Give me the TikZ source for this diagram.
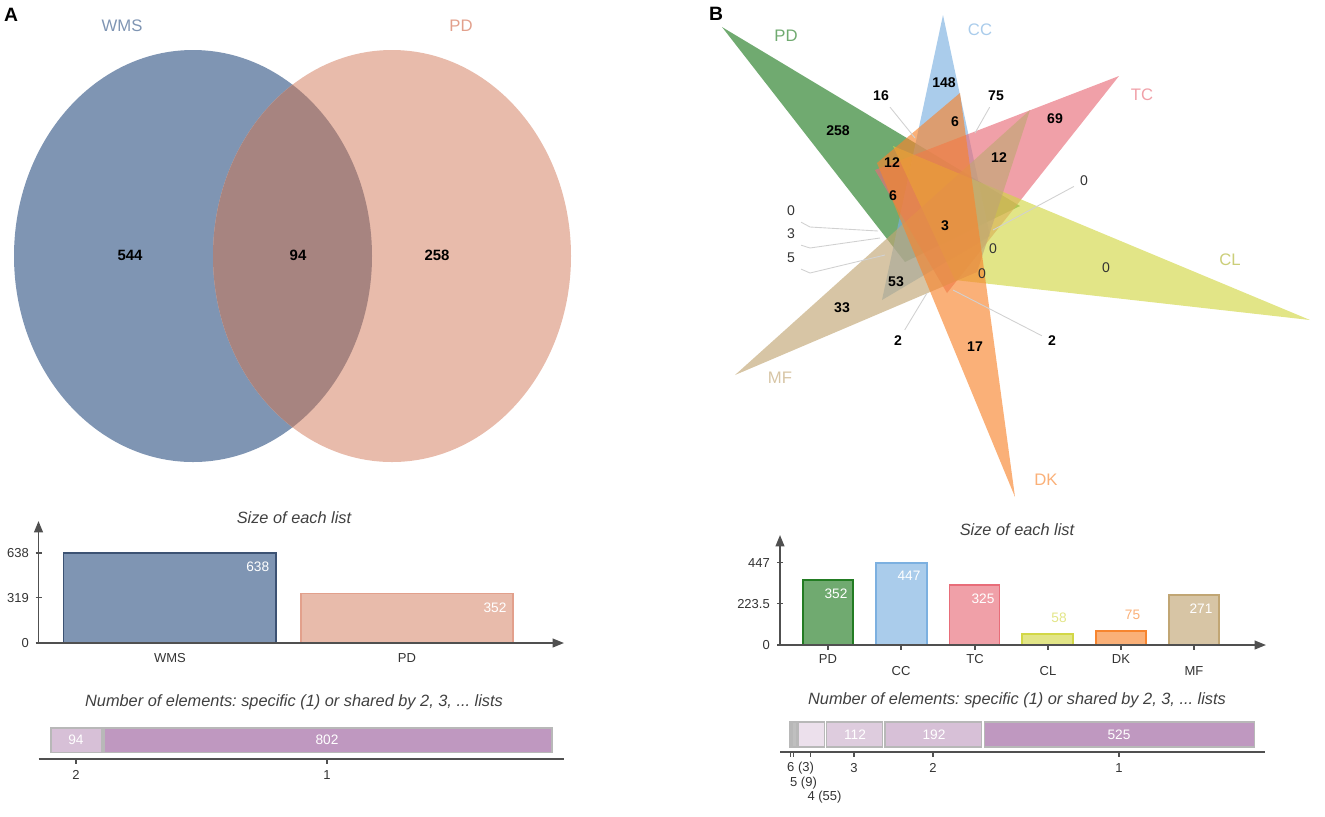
\documentclass[tikz,border=0pt]{standalone}
\usepackage{fontspec}
\setmainfont{Liberation Sans}
\usepackage{xcolor}
\definecolor{wms}{RGB}{127,149,179}
\definecolor{wmsedge}{RGB}{60,82,115}
\definecolor{pdA}{RGB}{232,187,171}
\definecolor{pdAedge}{RGB}{226,160,140}
\definecolor{wmspd}{RGB}{167,132,128}
\definecolor{pdT}{RGB}{35,124,35}
\definecolor{ccT}{RGB}{124,176,224}
\definecolor{tcT}{RGB}{232,109,121}
\definecolor{clT}{RGB}{210,215,70}
\definecolor{dkT}{RGB}{247,133,47}
\definecolor{mfT}{RGB}{193,166,116}
\definecolor{pdBar}{RGB}{112,170,112}
\definecolor{ccBar}{RGB}{170,204,235}
\definecolor{tcBar}{RGB}{240,160,168}
\definecolor{clBar}{RGB}{226,229,135}
\definecolor{dkBar}{RGB}{250,176,120}
\definecolor{mfBar}{RGB}{215,197,165}
\definecolor{shareone}{RGB}{191,152,192}
\definecolor{sharetwo}{RGB}{215,192,215}
\definecolor{sharethree}{RGB}{222,204,222}
\definecolor{sharefour}{RGB}{236,224,236}
\definecolor{axisgrey}{RGB}{80,80,80}
\usetikzlibrary{arrows.meta}
\usetikzlibrary{positioning}
\usetikzlibrary{calc}
\frenchspacing

\begin{document}
\begin{tikzpicture}[x=0.02cm, y=-0.02cm,
  venntxt/.style={font=\fontsize{8.5}{10}\selectfont\bfseries},
  numtxt/.style={font=\fontsize{8}{10}\selectfont\bfseries},
  zerotxt/.style={font=\fontsize{8}{10}\selectfont, text=black!80},
  setname/.style={font=\fontsize{9.5}{11}\selectfont},
  charttitle/.style={font=\fontsize{9.3}{11}\selectfont\itshape, text=black!75},
  ticktxt/.style={font=\fontsize{7.4}{9}\selectfont, text=black!80},
  barval/.style={font=\fontsize{7.8}{9}\selectfont, text=white},
  axisline/.style={draw=axisgrey, line width=1pt},
  tickline/.style={draw=axisgrey, line width=0.6pt},
  axisarrow/.style={-{Triangle[length=6.5pt, width=5pt]}},
  leader/.style={draw=black!18, line width=0.5pt},
  tri/.style={fill opacity=0.65},
  sharebox/.style={draw=black!28, line width=0.7pt}]

\useasboundingbox (0,0) rectangle (1325,816);

% panel letters
\node[font=\fontsize{11}{12}\selectfont\bfseries] (panA) at (11,15) {A};
\node[font=\fontsize{11}{12}\selectfont\bfseries] (panB) at (716,14) {B};

% Venn A
\fill[wms] (193,256) ellipse [x radius=179, y radius=206];
\fill[pdA] (392,256) ellipse [x radius=179, y radius=206];
\begin{scope}
  \clip (193,256) ellipse [x radius=179, y radius=206];
  \fill[wmspd] (392,256) ellipse [x radius=179, y radius=206];
\end{scope}

\node[setname, text=wms] (setWMS) at (122,26) {WMS};
\node[setname, text=pdAedge] (setPDA) at (461,26) {PD};
\node[venntxt] (onlyWMS) at (130,255) {544};
\node[venntxt] (bothA) at (298,255) {94};
\node[venntxt] (onlyPDA) at (437,255) {258};

% size of each list A
\node[charttitle] (sizeA) at (294,518) {Size of each list};
\coordinate (oA) at (38.5,643);
\coordinate (yA) at (38.5,521);
\coordinate (xA) at (564,643);
\filldraw[fill=wms, draw=wmsedge, line width=1pt] (63.5,553) rectangle (276,643);
\filldraw[fill=pdA, draw=pdAedge, line width=1pt] (301,593.6) rectangle (512.7,643);
\draw[axisline, axisarrow] (oA) -- (yA);
\draw[axisline, axisarrow] (oA) -- (xA);
\foreach \y/\t in {553/638, 597.6/319, 643/0} {
  \draw[tickline] (35.5,\y) -- (41.5,\y);
  \node[ticktxt, anchor=east] (tickA\t) at (35,\y) {\t};
}
\node[barval] (valWMS) at (257.7,567) {638};
\node[barval] (valPDA) at (495,608) {352};
\node[ticktxt] (xWMS) at (170,657.6) {WMS};
\node[ticktxt] (xPDA) at (407,657.6) {PD};

% shared elements A
\node[charttitle] (sharedA) at (294,702) {Number of elements: specific (1) or shared by 2, 3, ... lists};
\filldraw[sharebox, fill=sharetwo] (51,728) rectangle (102,752.5);
\filldraw[sharebox, fill=shareone] (104,728) rectangle (552,752.5);
\node[barval] (valTwoA) at (76,740) {94};
\node[barval] (valOneA) at (327,740) {802};
\coordinate (sA1) at (38.5,759);
\coordinate (sA2) at (563.5,759);
\draw[axisline] (sA1) -- (sA2);
\draw[tickline] (76,759) -- (76,764);
\draw[tickline] (327,759) -- (327,764);
\node[ticktxt] (lblTwoA) at (76,775) {2};
\node[ticktxt] (lblOneA) at (327,775) {1};

% Venn B, six triangles
\fill[tri, pdT] (722,27) -- (1020,206) -- (905,262) -- cycle;
\fill[tri, ccT] (943,15) -- (990,236) -- (882,300) -- cycle;
\fill[tri, tcT] (1119,76) -- (947,293) -- (875,170) -- cycle;
\fill[tri, clT] (1310,320) -- (955,280) -- (893,146) -- cycle;
\fill[tri, mfT] (735,375) -- (1030,110) -- (977,272) -- cycle;
\fill[tri, dkT] (1015,497) -- (877,163) -- (960,93) -- cycle;

\node[setname, text=pdBar] (setPD) at (786,36) {PD};
\node[setname, text=ccBar] (setCC) at (980,30) {CC};
\node[setname, text=tcBar] (setTC) at (1142,95) {TC};
\node[setname, text=clBar!90!black] (setCL) at (1230,260) {CL};
\node[setname, text=mfBar] (setMF) at (780,378) {MF};
\node[setname, text=dkBar] (setDK) at (1046,480) {DK};

\node[numtxt] (n258) at (838,131) {258};
\node[numtxt] (n16) at (881,96) {16};
\node[numtxt] (n148) at (944,83) {148};
\node[numtxt] (n75) at (996,96) {75};
\node[numtxt] (n6a) at (955,122) {6};
\node[numtxt] (n69) at (1055,119) {69};
\node[numtxt] (n12a) at (892,163) {12};
\node[numtxt] (n12b) at (999,158) {12};
\node[zerotxt] (n0a) at (1084,181) {0};
\node[numtxt] (n6b) at (893,196) {6};
\node[numtxt] (n3) at (945,226) {3};
\node[zerotxt] (n0b) at (791,211) {0};
\node[zerotxt] (n3b) at (791,234) {3};
\node[zerotxt] (n5b) at (791,258) {5};
\node[zerotxt] (n0c) at (993,249) {0};
\node[zerotxt] (n0d) at (1106,268) {0};
\node[zerotxt] (n0e) at (982,274) {0};
\node[numtxt] (n53) at (896,282) {53};
\node[numtxt] (n33) at (842,308) {33};
\node[numtxt] (n2a) at (898,341) {2};
\node[numtxt] (n17) at (975,347) {17};
\node[numtxt] (n2b) at (1052,341) {2};

% leader lines
\coordinate (c16) at (915,138);
\coordinate (c75) at (975,133);
\coordinate (c0a) at (993,230);
\coordinate (k0b) at (810,227);
\coordinate (c0b) at (878,231);
\coordinate (k3b) at (810,248);
\coordinate (c3b) at (880,238);
\coordinate (k5b) at (810,273);
\coordinate (c5b) at (885,255);
\coordinate (c2a) at (927,293);
\coordinate (c2b) at (953,290);
\draw[leader] (n16) -- (c16);
\draw[leader] (n75) -- (c75);
\draw[leader] (n0a) -- (c0a);
\draw[leader] (n0b.south east) -- (k0b) -- (c0b);
\draw[leader] (n3b.south east) -- (k3b) -- (c3b);
\draw[leader] (n5b.south east) -- (k5b) -- (c5b);
\draw[leader] (n2a) -- (c2a);
\draw[leader] (n2b) -- (c2b);

% size of each list B
\node[charttitle] (sizeB) at (1017,530) {Size of each list};
\coordinate (oB) at (780,645);
\coordinate (yB) at (780,535);
\coordinate (xB) at (1266,645);
\filldraw[fill=pdBar, draw=pdT, line width=1pt] (803,580.2) rectangle (853,645);
\filldraw[fill=ccBar, draw=ccT, line width=1pt] (876,562.7) rectangle (927,645);
\filldraw[fill=tcBar, draw=tcT, line width=1pt] (949.5,585.2) rectangle (999.5,645);
\filldraw[fill=clBar, draw=clT, line width=1pt] (1022,634.3) rectangle (1073,645);
\filldraw[fill=dkBar, draw=dkT, line width=1pt] (1096,631.2) rectangle (1146,645);
\filldraw[fill=mfBar, draw=mfT, line width=1pt] (1169,595.1) rectangle (1219,645);
\draw[axisline, axisarrow] (oB) -- (yB);
\draw[axisline, axisarrow] (oB) -- (xB);
\foreach \y/\t/\n in {562.7/447/a, 603.9/223.5/b, 645/0/c} {
  \draw[tickline] (777,\y) -- (783,\y);
  \node[ticktxt, anchor=east] (tickB\n) at (776,\y) {\t};
}
\node[barval] (valPD) at (836,594) {352};
\node[barval] (valCC) at (909,576) {447};
\node[barval] (valTC) at (983,599) {325};
\node[barval, text=clBar] (valCL) at (1059,618) {58};
\node[barval, text=dkBar] (valDK) at (1132.5,615) {75};
\node[barval] (valMF) at (1201,609) {271};
\foreach \x/\t/\yy in {828/PD/659, 901/CC/671, 975/TC/659, 1048/CL/671, 1121/DK/659, 1194/MF/671} {
  \draw[tickline] (\x,645) -- (\x,650);
  \node[ticktxt] (x\t) at (\x,\yy) {\t};
}

% shared elements B
\node[charttitle] (sharedB) at (1017,700) {Number of elements: specific (1) or shared by 2, 3, ... lists};
\filldraw[sharebox, fill=black!45] (790,722) rectangle (791.6,747);
\filldraw[sharebox, fill=black!25] (792.6,722) rectangle (796.6,747);
\filldraw[sharebox, fill=sharefour] (798,722) rectangle (824.5,747);
\filldraw[sharebox, fill=sharethree] (826.7,722) rectangle (882.5,747);
\filldraw[sharebox, fill=sharetwo] (885,722) rectangle (981.7,747);
\filldraw[sharebox, fill=shareone] (984.6,722) rectangle (1254.6,747);
\node[barval] (valThreeB) at (855,735) {112};
\node[barval] (valTwoB) at (934,735) {192};
\node[barval] (valOneB) at (1119,735) {525};
\coordinate (sB1) at (780,752);
\coordinate (sB2) at (1265,752);
\draw[axisline] (sB1) -- (sB2);
\foreach \x in {790.8, 793.7, 810.7, 854, 933, 1119} {
  \draw[tickline] (\x,752) -- (\x,757);
}
\node[ticktxt] (lblSixB) at (800.6,767.7) {6 (3)};
\node[ticktxt] (lblFiveB) at (803.5,782.7) {5 (9)};
\node[ticktxt] (lblFourB) at (824.5,796.7) {4 (55)};
\node[ticktxt] (lblThreeB) at (854,767.7) {3};
\node[ticktxt] (lblTwoB) at (933,767.7) {2};
\node[ticktxt] (lblOneB) at (1119,767.7) {1};

\end{tikzpicture}
\end{document}
